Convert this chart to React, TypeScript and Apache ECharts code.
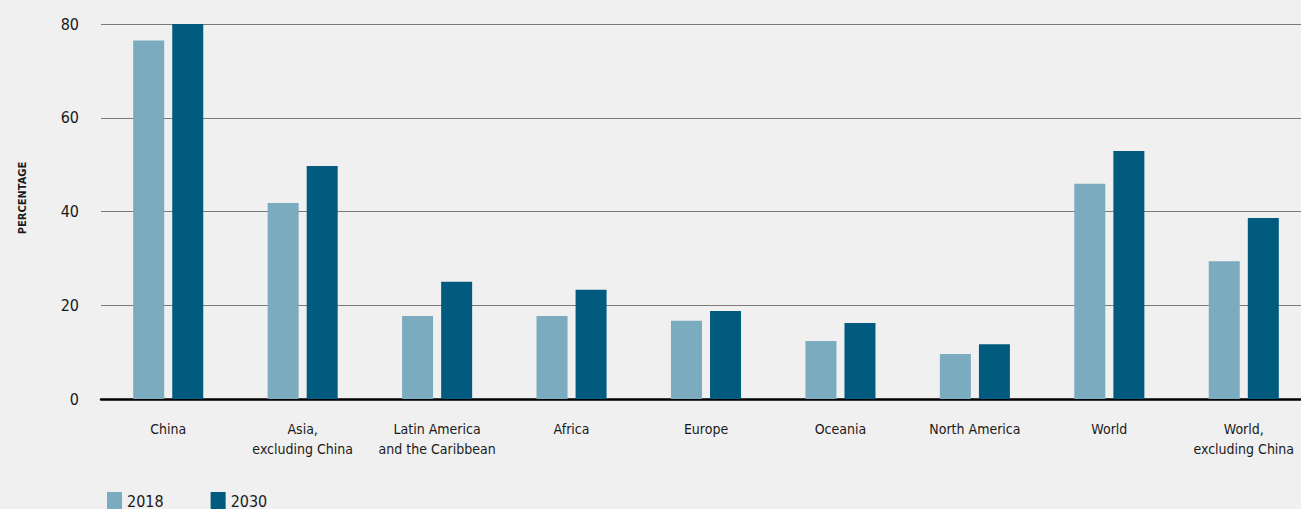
import React, { useEffect, useRef } from "react";
import * as echarts from "echarts";

const categories = [
  "China",
  "Asia,\nexcluding China",
  "Latin America\nand the Caribbean",
  "Africa",
  "Europe",
  "Oceania",
  "North America",
  "World",
  "World,\nexcluding China",
];
const values2018 = [76.5, 41.8, 17.7, 17.7, 16.7, 12.4, 9.6, 45.9, 29.4];
const values2030 = [80.2, 49.7, 25.0, 23.3, 18.8, 16.2, 11.7, 52.9, 38.6];
const yTicks = { min: 0, max: 80, interval: 20 };
const yAxisTitle = "PERCENTAGE";

const FONT = "'DejaVu Sans Condensed', 'Liberation Sans Narrow', sans-serif";

export default function App() {
  const ref = useRef<HTMLDivElement>(null);
  useEffect(() => {
    if (!ref.current) return;
    const chart = echarts.init(ref.current, null, { renderer: "svg" });
    chart.setOption({
      animation: false,
      backgroundColor: "#f0f0f0",
      textStyle: { fontFamily: FONT },
      grid: { left: 101, right: 0, top: 24, height: 375, containLabel: false },
      graphic: [
        {
          type: "text",
          x: 22,
          y: 198,
          rotation: Math.PI / 2,
          style: {
            text: yAxisTitle,
            fontFamily: FONT,
            fontSize: 11,
            fontWeight: "bold",
            fill: "#1a1a1a",
            textAlign: "center",
            textVerticalAlign: "middle",
          },
        },
      ],
      legend: {
        left: 102,
        top: 487,
        itemWidth: 15,
        itemHeight: 18,
        itemGap: 47,
        icon: "rect",
        textStyle: { fontFamily: FONT, fontSize: 16, color: "#1a1a1a" },
        data: ["2018", "2030"],
      },
      xAxis: {
        type: "category",
        data: categories,
        axisLine: { lineStyle: { color: "#000", width: 2.5 } },
        axisTick: { show: false },
        axisLabel: {
          interval: 0,
          margin: 20,
          fontFamily: FONT,
          fontSize: 14,
          lineHeight: 20,
          color: "#1a1a1a",
          verticalAlign: "top",
        },
      },
      yAxis: {
        type: "value",
        min: yTicks.min,
        max: yTicks.max,
        interval: yTicks.interval,
        axisLine: { show: false },
        axisTick: { show: false },
        splitLine: { lineStyle: { color: "#7a7a7a", width: 1.2 } },
        axisLabel: { margin: 22, fontFamily: FONT, fontSize: 16, color: "#1a1a1a" },
      },
      series: [
        {
          name: "2018",
          type: "bar",
          data: values2018,
          barWidth: 31,
          barGap: "26%",
          itemStyle: { color: "#7aabbf" },
        },
        {
          name: "2030",
          type: "bar",
          data: values2030,
          barWidth: 31,
          itemStyle: { color: "#005b7f" },
        },
      ],
    });
    return () => chart.dispose();
  }, []);
  return (
    <div
      ref={ref}
      style={{ position: "fixed", left: 0, top: 0, width: 1311, height: 509 }}
    />
  );
}
